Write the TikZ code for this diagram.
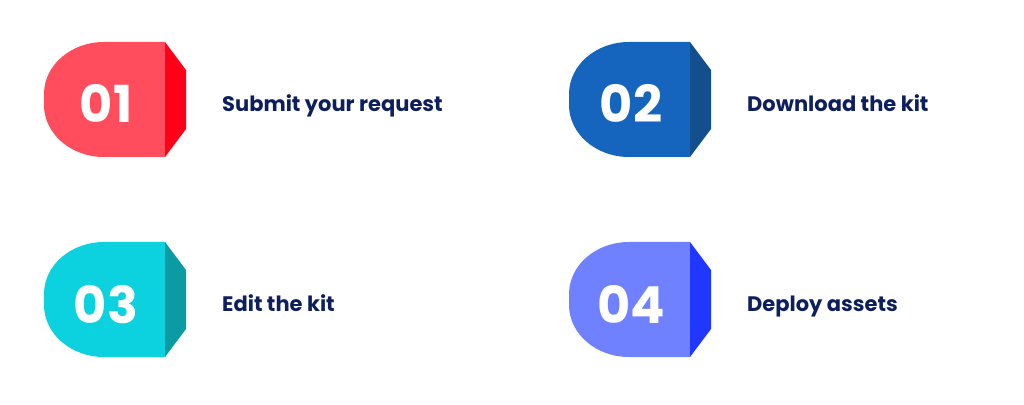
\documentclass[tikz,border=0pt]{standalone}
\usepackage{fontspec}
\setmainfont{Poppins}
\usepackage{xcolor}
\usepackage{tikz}
\usetikzlibrary{positioning}

\definecolor{redbody}{HTML}{FF4D5E}
\definecolor{redflap}{HTML}{FF0019}
\definecolor{bluebody}{HTML}{1565BE}
\definecolor{blueflap}{HTML}{124F8C}
\definecolor{cyanbody}{HTML}{0CD1DF}
\definecolor{cyanflap}{HTML}{0B9CA3}
\definecolor{violetbody}{HTML}{6F81FF}
\definecolor{violetflap}{HTML}{1F37FF}
\definecolor{navytext}{HTML}{0D1F5C}

\tikzset{
  stepnum/.style={text=white,inner sep=0pt,anchor=base,
    font=\fontsize{51}{51}\selectfont\bfseries},
  steptext/.style={text=navytext,inner sep=0pt,anchor=base west,
    font=\fontsize{21}{21}\selectfont\bfseries},
}

\begin{document}
\begin{tikzpicture}[x=1pt,y=1pt]
  \useasboundingbox (0,0) rectangle (1024,404);
  % four steps, two per row
  \foreach \dx/\dy/\num/\txt/\body/\flap in {%
      0/0/01/Submit your request/redbody/redflap,
      525/0/02/Download the kit/bluebody/blueflap,
      0/-200/03/Edit the kit/cyanbody/cyanflap,
      525/-200/04/Deploy assets/violetbody/violetflap}{
    \begin{scope}[shift={(\dx,\dy)}]
      \fill[\body] (165,362) -- (104,362)
        arc[start angle=90,end angle=180,x radius=60,y radius=52]
        -- (44,299)
        arc[start angle=180,end angle=270,x radius=60,y radius=52]
        -- (165,247) -- cycle;
      \fill[\flap] (165,362) -- (186,334) -- (186,275) -- (165,247) -- cycle;
      \node[stepnum] (num\num) at (106,281) {\num};
      \node[steptext] (txt\num) at (222,292) {\txt};
    \end{scope}
  }
\end{tikzpicture}
\end{document}
